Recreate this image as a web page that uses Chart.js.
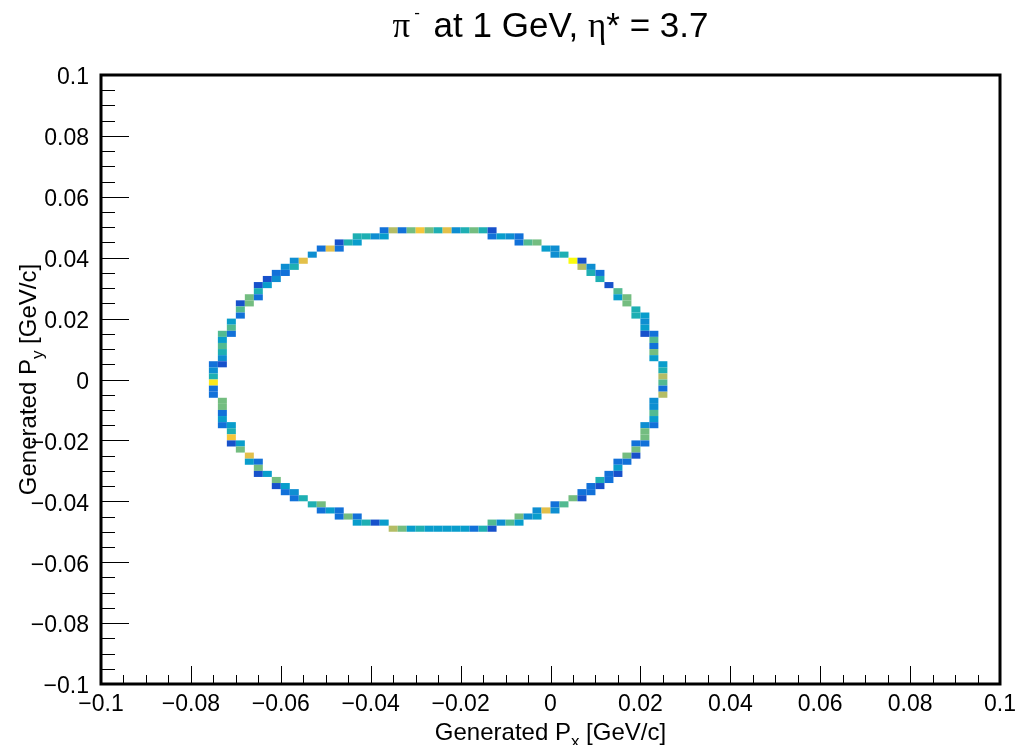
<!DOCTYPE html>
<html>
<head>
<meta charset="utf-8">
<title>pi- at 1 GeV, eta* = 3.7</title>
<script src="https://cdn.jsdelivr.net/npm/chart.js@4.4.1/dist/chart.umd.min.js"></script>
<style>
  html, body { margin: 0; padding: 0; background: #fff; }
  #wrap { width: 1032px; height: 745px; }
</style>
</head>
<body>
<div id="wrap"><canvas id="histo" width="1032" height="745"></canvas></div>
<script>
// 2D histogram, 0.002 GeV/c bins; filled cells listed row by row (bin centres)
var binWidth = 0.002;

var rowPy = [
   0.049,  0.047,  0.045,  0.043,  0.041,  0.039,  0.037,  0.035,  0.033,  0.031,
   0.029,  0.027,  0.025,  0.023,  0.021,  0.019,  0.017,  0.015,  0.013,  0.011,
   0.009,  0.007,  0.005,  0.003,  0.001, -0.001, -0.003, -0.005, -0.007, -0.009,
  -0.011, -0.013, -0.015, -0.017, -0.019, -0.021, -0.023, -0.025, -0.027, -0.029,
  -0.031, -0.033, -0.035, -0.037, -0.039, -0.041, -0.043, -0.045, -0.047, -0.049
];

var rowPx = [
  [-0.037, -0.035, -0.033, -0.031, -0.029, -0.027, -0.025, -0.023, -0.021, -0.019, -0.017, -0.015, -0.013],
  [-0.043, -0.041, -0.039, -0.037, -0.013, -0.011, -0.009, -0.007],
  [-0.047, -0.045, -0.043, -0.007, -0.005, -0.003],
  [-0.051, -0.049, -0.047, -0.001, 0.001],
  [-0.053, 0.001, 0.003],
  [-0.057, -0.055, 0.005, 0.007],
  [-0.059, -0.057, 0.007, 0.009],
  [-0.061, -0.059, 0.009, 0.011],
  [-0.063, -0.061, 0.011],
  [-0.065, -0.063, 0.013],
  [-0.065, 0.015],
  [-0.067, -0.065, 0.015, 0.017],
  [-0.069, -0.067, 0.017],
  [-0.069, 0.019],
  [-0.069, 0.019, 0.021],
  [-0.071, 0.021],
  [-0.071, 0.021],
  [-0.073, -0.071, 0.021, 0.023],
  [-0.073, 0.023],
  [-0.073, 0.023],
  [-0.073, 0.023],
  [-0.073, 0.023],
  [-0.075, -0.073, 0.025],
  [-0.075, 0.025],
  [-0.075, 0.025],
  [-0.075, 0.025],
  [-0.075, 0.025],
  [-0.075, 0.025],
  [-0.073, 0.023],
  [-0.073, 0.023],
  [-0.073, 0.023],
  [-0.073, 0.023],
  [-0.073, -0.071, 0.021, 0.023],
  [-0.071, 0.021],
  [-0.071, 0.021],
  [-0.071, -0.069, 0.019, 0.021],
  [-0.069, 0.019],
  [-0.067, 0.017, 0.019],
  [-0.067, -0.065, 0.015, 0.017],
  [-0.065, 0.015],
  [-0.065, -0.063, 0.013, 0.015],
  [-0.061, 0.011, 0.013],
  [-0.061, -0.059, 0.009, 0.011],
  [-0.059, -0.057, 0.007, 0.009],
  [-0.057, -0.055, 0.005, 0.007],
  [-0.053, -0.051, 0.001, 0.003],
  [-0.051, -0.049, -0.047, -0.003, -0.001, 0.001],
  [-0.047, -0.045, -0.043, -0.007, -0.005, -0.003],
  [-0.043, -0.041, -0.039, -0.037, -0.013, -0.011, -0.009, -0.007],
  [-0.035, -0.033, -0.031, -0.029, -0.027, -0.025, -0.023, -0.021, -0.019, -0.017, -0.015, -0.013]
];

var rowCounts = [
  [2, 8, 2, 7, 10, 7, 5, 9, 3, 5, 7, 5, 1],
  [5, 5, 3, 4, 2, 4, 3, 2],
  [1, 5, 4, 2, 6, 7],
  [2, 9, 2, 4, 3],
  [3, 3, 5],
  [3, 9, 12, 1],
  [3, 5, 8, 3],
  [2, 2, 5, 2],
  [1, 3, 5],
  [1, 4, 1],
  [5, 6],
  [7, 2, 4, 7],
  [1, 7, 7],
  [6, 5],
  [2, 5, 4],
  [4, 3],
  [6, 4],
  [6, 2, 1, 2],
  [4, 6],
  [6, 2],
  [5, 7],
  [3, 4],
  [2, 1, 4],
  [3, 5],
  [5, 8],
  [11, 6],
  [2, 2],
  [2, 8],
  [7, 3],
  [7, 3],
  [2, 6],
  [4, 4],
  [2, 4, 3, 2],
  [5, 7],
  [10, 7],
  [1, 4, 2, 2],
  [7, 7],
  [9, 7, 1],
  [4, 2, 2, 2],
  [7, 4],
  [1, 4, 2, 1],
  [7, 5, 2],
  [1, 4, 2, 1],
  [2, 3, 2, 2],
  [2, 5, 7, 1],
  [5, 7, 2, 6],
  [2, 4, 2, 3, 9, 3],
  [2, 7, 2, 7, 3, 4],
  [4, 5, 1, 4, 6, 3, 6, 4],
  [8, 7, 4, 5, 4, 4, 4, 4, 4, 2, 5, 1]
];

var tickValues = [-0.1, -0.08, -0.06, -0.04, -0.02, 0, 0.02, 0.04, 0.06, 0.08, 0.1];

var sans = '"Liberation Sans", Arial, Helvetica, sans-serif';
var serif = '"Liberation Serif", "Times New Roman", serif';

// kBird palette stops
var birdStops = [0, 0.125, 0.25, 0.375, 0.5, 0.625, 0.75, 0.875, 1];
var birdRGB = [
  [0.2082, 0.1664, 0.5293], [0.0592, 0.3599, 0.8684], [0.0780, 0.5041, 0.8385],
  [0.0232, 0.6419, 0.7914], [0.1802, 0.7178, 0.6425], [0.5301, 0.7492, 0.4662],
  [0.8186, 0.7328, 0.3499], [0.9956, 0.7862, 0.1968], [0.9764, 0.9832, 0.0539]
];

function birdColor(c, zmax) {
  // 20 contour levels over 255 palette colours
  var level = Math.floor(0.01 + c * 20 / zmax);
  var idx = Math.min(254, Math.floor((level + 0.99) * 255 / 20));
  var v = idx / 254;
  var k = 0;
  while (k < birdStops.length - 2 && v > birdStops[k + 1]) k++;
  var f = (v - birdStops[k]) / (birdStops[k + 1] - birdStops[k]);
  var a = birdRGB[k], b = birdRGB[k + 1];
  var rgb = [0, 1, 2].map(function (n) { return Math.round(255 * (a[n] + f * (b[n] - a[n]))); });
  return 'rgb(' + rgb.join(',') + ')';
}

function fmtTick(v) {
  var s = String(Number(v.toFixed(3)));
  return s.replace('-', '\u2212');
}

var points = [];
var zmax = 0;
rowPy.forEach(function (py, r) {
  rowPx[r].forEach(function (px, k) {
    points.push({ x: px, y: py, c: rowCounts[r][k] });
    zmax = Math.max(zmax, rowCounts[r][k]);
  });
});

function drawRuns(ctx, runs, cx, base) {
  var total = 0;
  runs.forEach(function (r) { ctx.font = r.font; r.w = ctx.measureText(r.t).width + (r.gap || 0); total += r.w; });
  var x = cx - total / 2;
  ctx.textAlign = 'left';
  ctx.textBaseline = 'alphabetic';
  runs.forEach(function (r) {
    ctx.font = r.font;
    ctx.fillText(r.t, x, base + (r.dy || 0));
    x += r.w;
  });
}

var histPlugin = {
  id: 'histPlugin',
  beforeDatasetsDraw: function (chart) {
    var ctx = chart.ctx, xs = chart.scales.x, ys = chart.scales.y, ca = chart.chartArea;
    ctx.save();
    ctx.beginPath();
    ctx.rect(ca.left, ca.top, ca.right - ca.left, ca.bottom - ca.top);
    ctx.clip();
    chart.data.datasets[0].data.forEach(function (p) {
      var x0 = xs.getPixelForValue(p.x - binWidth / 2);
      var x1 = xs.getPixelForValue(p.x + binWidth / 2);
      var y0 = ys.getPixelForValue(p.y + binWidth / 2);
      var y1 = ys.getPixelForValue(p.y - binWidth / 2);
      ctx.fillStyle = birdColor(p.c, zmax);
      ctx.fillRect(x0, y0, x1 - x0, y1 - y0);
    });
    ctx.restore();
  },
  afterDraw: function (chart) {
    var ctx = chart.ctx, xs = chart.scales.x, ys = chart.scales.y, ca = chart.chartArea;
    ctx.save();
    ctx.strokeStyle = '#000';
    ctx.fillStyle = '#000';

    // tick marks, drawn inside the frame
    ctx.lineWidth = 1;
    ctx.beginPath();
    for (var k = 0; k <= 40; k++) {
      var v = -0.1 + k * 0.005;
      var major = k % 4 === 0;
      var px = Math.round(xs.getPixelForValue(v)) + 0.5;
      ctx.moveTo(px, ca.bottom);
      ctx.lineTo(px, ca.bottom - (major ? 18 : 9));
      var py = Math.round(ys.getPixelForValue(v)) + 0.5;
      ctx.moveTo(ca.left, py);
      ctx.lineTo(ca.left + (major ? 28 : 14), py);
    }
    ctx.stroke();

    // frame
    ctx.lineWidth = 3;
    ctx.strokeRect(ca.left, ca.top, ca.right - ca.left, ca.bottom - ca.top);

    // title
    var cx = (ca.left + ca.right) / 2;
    drawRuns(ctx, [
      { t: '\u03c0', font: '35px ' + serif, gap: 4 },
      { t: '-', font: '17px ' + sans, dy: -19, gap: 4 },
      { t: ' at 1 GeV, ', font: '35px ' + sans },
      { t: '\u03b7', font: '35px ' + serif },
      { t: '* = 3.7', font: '35px ' + sans }
    ], cx, 37);

    // x axis title
    drawRuns(ctx, [
      { t: 'Generated P', font: '24px ' + sans },
      { t: 'x', font: '17px ' + sans, dy: 7 },
      { t: ' [GeV/c]', font: '24px ' + sans }
    ], cx, 740);

    // y axis title
    ctx.translate(36, (ca.top + ca.bottom) / 2);
    ctx.rotate(-Math.PI / 2);
    drawRuns(ctx, [
      { t: 'Generated P', font: '24px ' + sans },
      { t: 'y', font: '17px ' + sans, dy: 7 },
      { t: ' [GeV/c]', font: '24px ' + sans }
    ], 0, 0);
    ctx.restore();
  }
};

var ctx = document.getElementById('histo').getContext('2d');
var histo = new Chart(ctx, {
  type: 'scatter',
  data: {
    datasets: [{
      label: 'Py vs Px',
      data: points,
      pointRadius: 0,
      pointHoverRadius: 0,
      showLine: false
    }]
  },
  options: {
    responsive: false,
    animation: false,
    devicePixelRatio: 1,
    layout: { padding: { top: 75, right: 32, left: 0, bottom: 0 } },
    plugins: {
      legend: { display: false },
      tooltip: { enabled: false },
      title: { display: false }
    },
    scales: {
      x: {
        type: 'linear',
        min: -0.1,
        max: 0.1,
        grid: { display: false, drawTicks: false },
        border: { display: false },
        afterBuildTicks: function (s) { s.ticks = tickValues.map(function (v) { return { value: v }; }); },
        afterFit: function (s) { s.height = 61; },
        ticks: {
          autoSkip: false,
          maxRotation: 0,
          padding: 7,
          color: '#000',
          font: { family: sans, size: 23 },
          callback: function (v) { return fmtTick(v); }
        }
      },
      y: {
        type: 'linear',
        min: -0.1,
        max: 0.1,
        grid: { display: false, drawTicks: false },
        border: { display: false },
        afterBuildTicks: function (s) { s.ticks = tickValues.map(function (v) { return { value: v }; }); },
        afterFit: function (s) { s.width = 101; },
        ticks: {
          autoSkip: false,
          padding: 12,
          labelOffset: 3,
          color: '#000',
          font: { family: sans, size: 23 },
          callback: function (v) { return fmtTick(v); }
        }
      }
    }
  },
  plugins: [histPlugin]
});
</script>
</body>
</html>
